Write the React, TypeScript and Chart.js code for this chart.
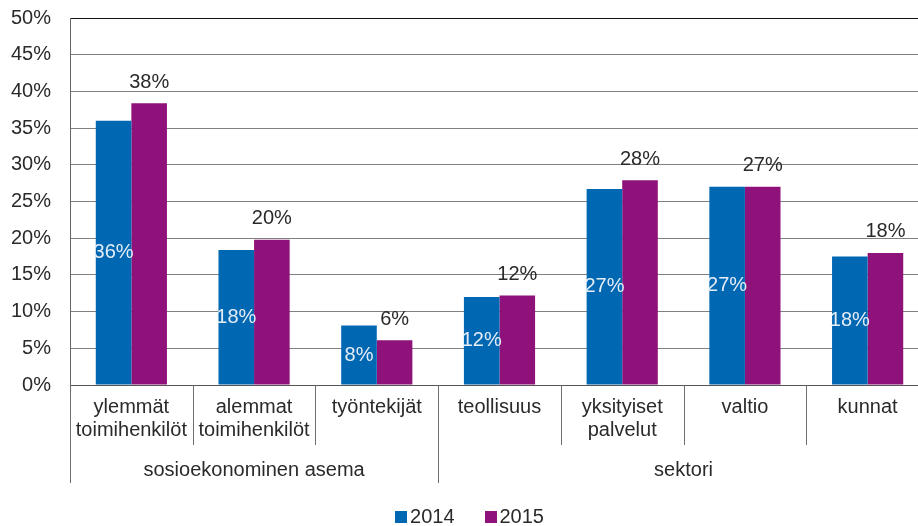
import React, { useEffect, useRef } from "react";
import { Chart, registerables } from "chart.js";

Chart.register(...registerables);

const categories: string[][] = [
  ["ylemmät", "toimihenkilöt"],
  ["alemmat", "toimihenkilöt"],
  ["työntekijät"],
  ["teollisuus"],
  ["yksityiset", "palvelut"],
  ["valtio"],
  ["kunnat"],
];
const groupNames = ["sosioekonominen asema", "sektori"];
const groupSizes = [3, 4];
const seriesNames = ["2014", "2015"];
const values2014 = [36.0, 18.4, 8.1, 12.0, 26.7, 27.0, 17.5];
const values2015 = [38.4, 19.8, 6.1, 12.2, 27.9, 27.0, 18.0];
const seriesColors = ["#0067b3", "#8e1279"];
const yMin = 0;
const yMax = 50;
const yStep = 5;

const FONT = "'Liberation Sans', Arial, sans-serif";
const TEXT = "#2a2a2a";

const overlayPlugin = {
  id: "overlay",
  afterDatasetsDraw(chart: any) {
    const ctx = chart.ctx;
    ctx.save();
    ctx.font = `20px ${FONT}`;
    ctx.textAlign = "center";
    ctx.textBaseline = "middle";
    chart.data.datasets.forEach((ds: any, di: number) => {
      const meta = chart.getDatasetMeta(di);
      meta.data.forEach((bar: any, i: number) => {
        const label = Math.round(ds.data[i]) + "%";
        if (di === 0) {
          ctx.fillStyle = "#e4ecf6";
          ctx.fillText(label, bar.x, (bar.y + bar.base) / 2);
        } else {
          ctx.fillStyle = TEXT;
          ctx.fillText(label, bar.x, bar.y - 21);
        }
      });
    });
    ctx.restore();
  },
  afterDraw(chart: any) {
    const ctx = chart.ctx;
    const xs = chart.scales.x;
    const area = chart.chartArea;
    const n = categories.length;
    const w = (xs.right - xs.left) / n;
    const groupBounds = [0];
    groupSizes.forEach((s) => groupBounds.push(groupBounds[groupBounds.length - 1] + s));
    ctx.save();
    ctx.strokeStyle = "#6e6e6e";
    ctx.lineWidth = 1;
    for (let i = 0; i <= n; i++) {
      const x = Math.round(xs.left + i * w) + 0.5;
      const isGroup = groupBounds.includes(i);
      ctx.beginPath();
      ctx.moveTo(x, area.bottom);
      ctx.lineTo(x, isGroup ? area.bottom + 98 : area.bottom + 60);
      ctx.stroke();
    }
    ctx.font = `20px ${FONT}`;
    ctx.fillStyle = TEXT;
    ctx.textAlign = "center";
    ctx.textBaseline = "middle";
    groupNames.forEach((g, gi) => {
      const x0 = xs.left + groupBounds[gi] * w;
      const x1 = xs.left + groupBounds[gi + 1] * w;
      ctx.fillText(g, (x0 + x1) / 2, area.bottom + 85);
    });
    // legend
    const boxSize = 12;
    const gapBox = 3;
    const gapItem = 30;
    ctx.textAlign = "left";
    const widths = seriesNames.map((s) => boxSize + gapBox + ctx.measureText(s).width);
    const total = widths.reduce((a, b) => a + b, 0) + gapItem * (seriesNames.length - 1);
    let x = chart.width / 2 + 5 - total / 2;
    const ly = chart.height - 9;
    seriesNames.forEach((s, i) => {
      ctx.fillStyle = seriesColors[i];
      ctx.fillRect(Math.round(x), Math.round(ly - 6), boxSize, boxSize);
      ctx.fillStyle = TEXT;
      ctx.fillText(s, x + boxSize + gapBox, ly);
      x += widths[i] + gapItem;
    });
    ctx.restore();
  },
};

export default function App() {
  const ref = useRef<HTMLCanvasElement | null>(null);
  useEffect(() => {
    if (!ref.current) return;
    const chart = new Chart(ref.current, {
      type: "bar",
      data: {
        labels: categories as any,
        datasets: [
          {
            label: seriesNames[0],
            data: values2014,
            backgroundColor: seriesColors[0],
            categoryPercentage: 0.58,
            barPercentage: 1,
          },
          {
            label: seriesNames[1],
            data: values2015,
            backgroundColor: seriesColors[1],
            categoryPercentage: 0.58,
            barPercentage: 1,
          },
        ],
      },
      options: {
        responsive: false,
        animation: false,
        layout: { padding: { top: 18, left: 0, right: 0, bottom: 0 } },
        plugins: {
          legend: { display: false },
          tooltip: { enabled: false },
        },
        scales: {
          x: {
            offset: true,
            grid: { display: true, drawOnChartArea: false, drawTicks: false },
            border: { display: true, color: "#555555", width: 1 },
            ticks: {
              font: { family: FONT, size: 20, lineHeight: 1.15 },
              color: TEXT,
              padding: 11,
              maxRotation: 0,
              autoSkip: false,
            },
            afterFit: (scale: any) => {
              scale.height = 141;
              scale.paddingLeft = 0;
              scale.paddingRight = 0;
            },
          },
          y: {
            min: yMin,
            max: yMax,
            ticks: {
              stepSize: yStep,
              callback: (v: any) => v + "%",
              font: { family: FONT, size: 20 },
              color: TEXT,
              padding: 19,
            },
            grid: {
              drawTicks: false,
              color: (c: any) => (c.tick && c.tick.value === yMax ? "#111111" : "#808080"),
            },
            border: { display: true, color: "#666666", width: 1 },
            afterFit: (scale: any) => {
              scale.width = 70;
              scale.paddingTop = 0;
              scale.paddingBottom = 0;
            },
          },
        },
      },
      plugins: [overlayPlugin],
    });
    return () => chart.destroy();
  }, []);
  return (
    <div
      style={{
        position: "absolute",
        left: 0,
        top: 0,
        width: 918,
        height: 526,
        overflow: "hidden",
        background: "#fff",
      }}
    >
      <canvas ref={ref} width={929} height={526} style={{ display: "block" }} />
    </div>
  );
}
